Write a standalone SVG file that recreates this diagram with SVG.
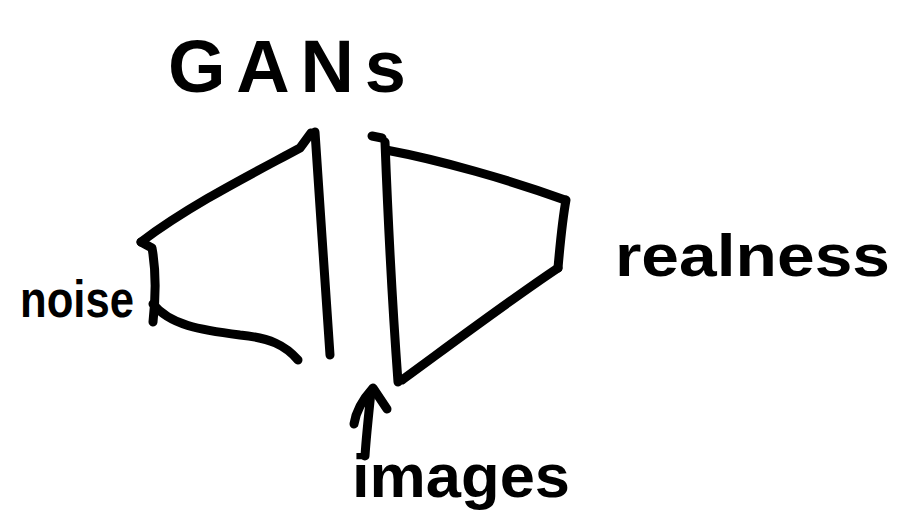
<svg xmlns="http://www.w3.org/2000/svg" width="908" height="531" viewBox="0 0 908 531">
<style>
.ink{fill:none;stroke:#000;stroke-width:9;stroke-linecap:round;stroke-linejoin:round}
.lbl{font-family:"Liberation Sans",Arial,sans-serif;font-weight:bold;fill:#000}
</style>
<rect width="908" height="531" fill="#fff"/>
<g id="title"><text class="lbl" x="168" y="92" font-size="74" textLength="238" lengthAdjust="spacing">GANs</text></g>
<g id="generator">
<path class="ink" d="M141,242 C190,205 250,175 300,148 L311,133"/>
<path class="ink" d="M315,132 C320,200 325,290 330,355"/>
<path class="ink" d="M141,242 L152,248 C156,270 156,295 153,322"/>
<path class="ink" d="M153,304 C170,325 200,330 240,335 C270,338 285,345 298,360"/>
</g>
<g id="discriminator">
<path class="ink" d="M372,136 L382,138"/>
<path class="ink" d="M385,142 C388,220 392,300 398,382"/>
<path class="ink" d="M386,150 C440,160 510,180 565,200"/>
<path class="ink" d="M566,200 C562,222 560,245 558,268"/>
<path class="ink" d="M558,268 C510,300 450,345 402,380"/>
</g>
<g id="noise"><text class="lbl" x="20" y="317" font-size="52" textLength="114" lengthAdjust="spacingAndGlyphs">noise</text></g>
<g id="realness"><text class="lbl" x="615" y="276" font-size="60" textLength="275" lengthAdjust="spacingAndGlyphs">realness</text></g>
<g id="images"><text class="lbl" x="352" y="497" font-size="62" textLength="218" lengthAdjust="spacingAndGlyphs">images</text></g>
<g id="connectors">
<path class="ink" d="M365,456 C366,440 368,420 371,392"/>
<path class="ink" d="M354,424 C356,410 364,398 373,388 L387,409"/>
</g>
</svg>
